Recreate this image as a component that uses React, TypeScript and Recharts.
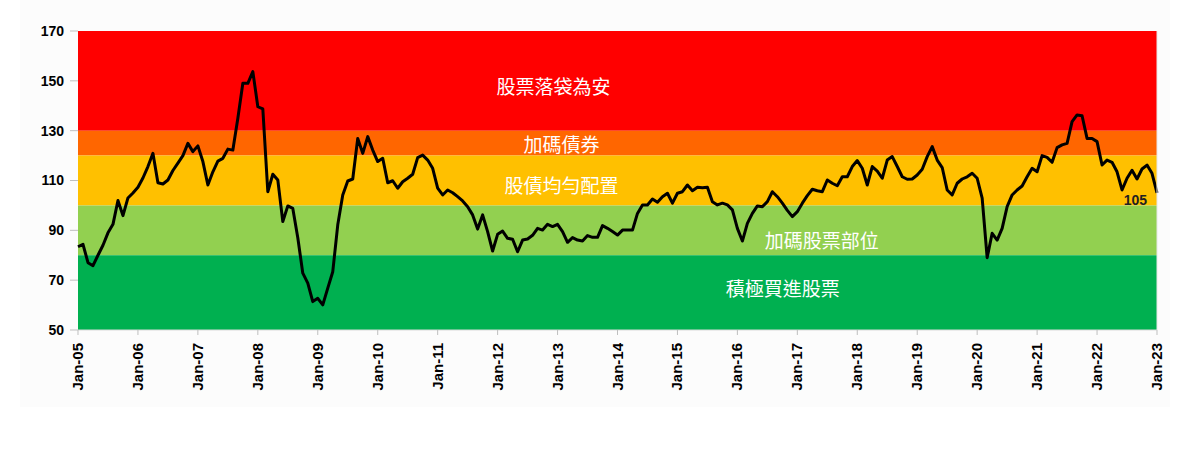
import React from "react";
import {
  LineChart,
  Line,
  XAxis,
  YAxis,
  ReferenceArea,
  ReferenceDot,
} from "recharts";

// monthly index values, Jan-05 .. Jan-23 (217 months)
const values = [
  83.4, 84.4, 77, 75.8, 80, 84, 89, 92.4, 102, 95.9, 103, 105,
  107.3, 111, 115.6, 120.9, 109.1, 108.6, 110.2, 114, 117, 120, 124.9, 121.6,
  123.9, 117.6, 108.2, 113.5, 117.8, 118.9, 122.6, 122.2, 135, 149, 149, 153.7,
  139.6, 138.7, 105.5, 112.5, 110.2, 93.5, 99.8, 98.8, 87, 72.8, 68.8, 61.4,
  62.7, 60.1, 66.8, 73.4, 92.2, 104.2, 109.8, 110.6, 126.9, 120.9, 127.6, 122.2,
  117.6, 118.9, 109.1, 109.9, 106.9, 109.5, 110.9, 112.5, 119.2, 120.2, 118.2, 114.9,
  106.9, 104.2, 106.2, 105.1, 103.5, 101.8, 99.5, 96.2, 90.5, 96.2, 89.5, 81.7,
  88.4, 89.7, 86.8, 86.4, 81.4, 86.1, 86.5, 88, 90.8, 90.1, 92.4, 91.5,
  92.4, 89.5, 85.2, 87.1, 86.1, 85.7, 87.9, 87.2, 87.2, 91.9, 90.8, 89.5,
  88.1, 90.1, 90.1, 90.1, 96.8, 100.2, 100.2, 102.6, 101.3, 103.5, 104.9, 100.9,
  104.9, 105.5, 108.2, 105.9, 107.3, 107.1, 107.3, 101.5, 100.2, 100.9, 100.2, 98.2,
  90.8, 85.7, 92.8, 96.8, 99.8, 99.5, 101.5, 105.5, 103.5, 100.9, 98, 95.5,
  97.5, 100.9, 103.9, 106.5, 105.9, 105.5, 110.2, 108.9, 107.9, 111.5, 111.5, 115.6,
  118, 114.9, 108.2, 115.6, 113.8, 110.9, 118.2, 119.6, 115.6, 111.5, 110.5, 110.6,
  112.2, 114.5, 119.6, 123.6, 118.2, 115.2, 106.2, 104.2, 108.9, 110.6, 111.5, 112.9,
  110.9, 102.9, 79, 88.8, 86.1, 90.8, 99.5, 104.2, 106.2, 107.8, 111.5, 114.9,
  113.5, 120, 119.3, 117.3, 123.2, 124.3, 124.9, 133.6, 136.3, 136, 126.9, 126.9,
  125.6, 116.2, 118.2, 117.3, 113.5, 106.2, 110.9, 114.1, 110.6, 114.6, 116.2, 112.9,
  105,
];

const yearLabels = [
  "Jan-05", "Jan-06", "Jan-07", "Jan-08", "Jan-09", "Jan-10", "Jan-11",
  "Jan-12", "Jan-13", "Jan-14", "Jan-15", "Jan-16", "Jan-17", "Jan-18",
  "Jan-19", "Jan-20", "Jan-21", "Jan-22", "Jan-23",
];

const yTicks = [50, 70, 90, 110, 130, 150, 170];

// zone bounds and colours
const zoneLow = [130, 120, 100, 80, 50];
const zoneHigh = [170, 130, 120, 100, 80];
const zoneColors = ["#FF0000", "#FF6600", "#FFC000", "#92D050", "#00B050"];

const zoneNames = ["股票落袋為安", "加碼債券", "股債均勻配置", "加碼股票部位", "積極買進股票"];
const zoneNameMonth = [95.2, 96.8, 96.8, 148.9, 141.1];
const zoneNameValue = [147.5, 124.3, 107.8, 85.7, 66.5];

const data = values.map((v, i) => ({ m: i, v }));
const last = values.length - 1;

const XTick = (props: any) => {
  const { x, y, payload } = props;
  return (
    <g transform={`translate(${x},${y})`}>
      <text
        transform="rotate(-90)"
        x={-6}
        y={5}
        textAnchor="end"
        fontSize={15}
        fontWeight="bold"
        fontFamily="Liberation Sans, Arial, sans-serif"
        fill="#000"
      >
        {yearLabels[Math.round(payload.value / 12)]}
      </text>
    </g>
  );
};

const LastLabel = (props: any) => {
  const { x, y, index } = props;
  if (index !== last) return null;
  return (
    <text
      x={x - 10}
      y={y + 12}
      textAnchor="end"
      fontSize={14}
      fontWeight="bold"
      fontFamily="Liberation Sans, Arial, sans-serif"
      fill="#222"
    >
      {values[last]}
    </text>
  );
};

const App = () => {
  return (
    <div style={{ position: "absolute", left: 0, top: 0, width: 1193, height: 449, background: "#fff" }}>
      <div style={{ position: "absolute", left: 20, top: 0, width: 1150, height: 407, background: "#fcfcfc" }} />
      <div style={{ position: "absolute", left: 0, top: 0 }}>
        <LineChart
          width={1193}
          height={449}
          data={data}
          margin={{ top: 31, right: 0, bottom: 0, left: 0 }}
        >
          <XAxis
            dataKey="m"
            type="number"
            domain={[0, 216]}
            ticks={yearLabels.map((_, i) => i * 12)}
            interval={0}
            height={119}
            tick={<XTick />}
            tickSize={5}
            tickLine={{ stroke: "#bfbfbf" }}
            axisLine={{ stroke: "#d9d9d9" }}
          />
          <YAxis
            domain={[50, 170]}
            ticks={yTicks}
            width={78}
            tickSize={8}
            tickMargin={6}
            tick={{ fontSize: 14, fontWeight: "bold", fill: "#000", fontFamily: "Liberation Sans, Arial, sans-serif" }}
            tickLine={{ stroke: "#bfbfbf" }}
            axisLine={false}
          />
          <YAxis
            yAxisId="r"
            orientation="right"
            domain={[50, 170]}
            ticks={yTicks}
            width={36}
            tickSize={6}
            tickFormatter={() => ""}
            tickLine={{ stroke: "#d0d0d0" }}
            axisLine={{ stroke: "#e6e6e6" }}
          />
          {zoneLow.map((lo, i) => (
            <ReferenceArea
              key={i}
              y1={lo}
              y2={zoneHigh[i]}
              fill={zoneColors[i]}
              fillOpacity={1}
              stroke="none"
              ifOverflow="hidden"
            />
          ))}
          {zoneNames.map((name, i) => (
            <ReferenceDot
              key={name}
              x={zoneNameMonth[i]}
              y={zoneNameValue[i]}
              r={0}
              fill="none"
              stroke="none"
              label={{
                value: name,
                position: "center",
                fill: "#fff",
                fontSize: 19,
                fontFamily: "Noto Sans CJK TC, sans-serif",
              }}
            />
          ))}
          <Line
            type="linear"
            dataKey="v"
            stroke="#000"
            strokeWidth={3}
            strokeLinejoin="round"
            dot={false}
            isAnimationActive={false}
            label={<LastLabel />}
          />
        </LineChart>
      </div>
    </div>
  );
};

export default App;
